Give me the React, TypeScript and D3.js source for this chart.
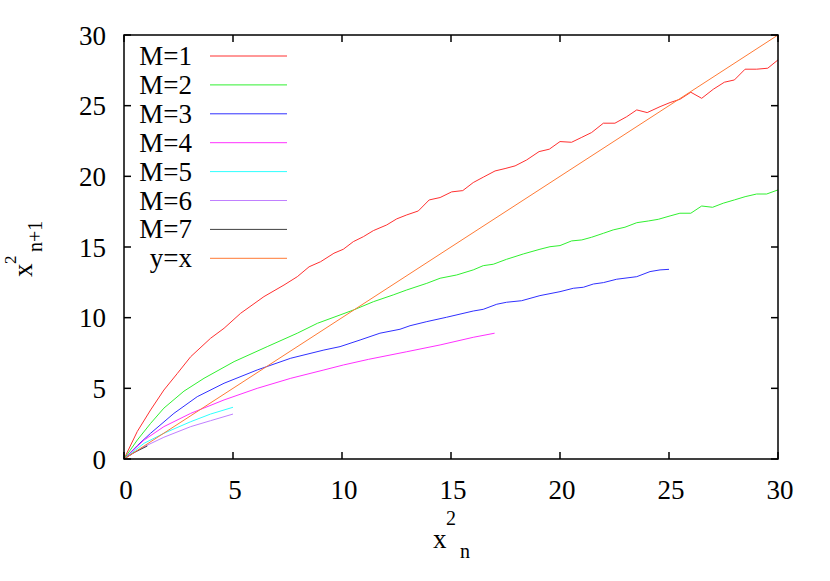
import { useEffect, useRef } from 'react';
import * as d3 from 'd3';

// values, [x, y] pairs per series
const m1 = [
  [0, 0], [0.61, 1.95], [1.22, 3.47], [1.83, 4.88], [2.45, 6.06], [3.06, 7.24],
  [3.97, 8.54], [4.59, 9.25], [5.35, 10.31], [6.42, 11.49], [7.34, 12.31], [7.95, 12.9],
  [8.49, 13.6], [9.02, 13.96], [9.63, 14.56], [10.06, 14.84], [10.52, 15.38], [10.98, 15.73],
  [11.44, 16.16], [12.05, 16.56], [12.51, 16.99], [12.97, 17.27], [13.5, 17.55], [14.0, 18.33],
  [14.5, 18.5], [15.03, 18.9], [15.54, 18.99], [16.02, 19.56], [16.48, 19.94], [17.02, 20.38],
  [17.48, 20.55], [17.94, 20.74], [18.47, 21.16], [19.04, 21.75], [19.51, 21.92], [20.0, 22.46],
  [20.53, 22.41], [21.0, 22.76], [21.45, 23.1], [21.99, 23.76], [22.52, 23.76], [23.06, 24.22],
  [23.52, 24.7], [24.0, 24.51], [24.59, 24.93], [25.05, 25.22], [25.5, 25.45], [26.0, 25.95],
  [26.5, 25.52], [27.03, 26.16], [27.54, 26.66], [28.0, 26.82], [28.49, 27.58], [29.02, 27.58],
  [29.53, 27.65], [30.0, 28.24],
];
const m2 = [
  [0, 0], [0.61, 1.34], [1.22, 2.52], [1.83, 3.6], [2.75, 4.8], [3.67, 5.71],
  [5.05, 6.89], [6.57, 7.95], [7.95, 8.9], [8.87, 9.6], [9.91, 10.19], [10.52, 10.54],
  [11.44, 11.13], [12.35, 11.61], [12.97, 11.96], [13.89, 12.43], [14.5, 12.79], [15.26, 13.02],
  [16.02, 13.38], [16.48, 13.68], [16.94, 13.78], [17.55, 14.13], [18.32, 14.51], [19.08, 14.84],
  [19.54, 15.02], [20.0, 15.1], [20.53, 15.43], [21.0, 15.5], [21.45, 15.69], [21.99, 15.97],
  [22.44, 16.21], [22.98, 16.4], [23.52, 16.72], [24.05, 16.84], [24.51, 16.96], [25.05, 17.2],
  [25.5, 17.39], [26.0, 17.39], [26.5, 17.9], [27.0, 17.81], [27.49, 18.1], [28.0, 18.33],
  [28.49, 18.56], [29.02, 18.75], [29.48, 18.75], [30.0, 19.04],
];
const m3 = [
  [0, 0], [0.61, 0.95], [1.22, 1.82], [2.29, 3.23], [3.36, 4.41], [4.59, 5.36],
  [6.11, 6.3], [7.65, 7.13], [9.17, 7.71], [9.91, 7.95], [10.83, 8.42], [11.74, 8.9],
  [12.66, 9.18], [13.12, 9.43], [13.89, 9.72], [14.8, 10.03], [16.02, 10.47], [16.48, 10.59],
  [17.1, 10.95], [17.55, 11.09], [18.24, 11.2], [19.08, 11.56], [20.0, 11.84], [20.61, 12.08],
  [21.07, 12.15], [21.53, 12.38], [21.99, 12.48], [22.6, 12.72], [23.52, 12.9], [24.13, 13.26],
  [24.59, 13.38], [25.0, 13.42],
];
const m4 = [
  [0, 0], [0.92, 1.34], [1.83, 2.29], [3.06, 3.23], [4.59, 4.18], [6.11, 5.0],
  [7.65, 5.71], [9.17, 6.3], [10.06, 6.65], [11.21, 7.05], [12.97, 7.59], [14.5, 8.07],
  [16.02, 8.61], [17.0, 8.9],
];
const m5 = [[0, 0], [0.92, 1.11], [1.83, 1.82], [3.06, 2.64], [3.97, 3.18], [5.0, 3.66]];
const m6 = [[0, 0], [0.92, 0.87], [1.83, 1.54], [3.06, 2.29], [3.97, 2.71], [5.0, 3.18]];
const m7 = [[0, 0], [0.45, 0.45], [1.07, 0.92]];
const identity = [[0, 0], [30, 30]];

const seriesNames = ['M=1', 'M=2', 'M=3', 'M=4', 'M=5', 'M=6', 'M=7', 'y=x'];
const seriesData = [m1, m2, m3, m4, m5, m6, m7, identity];
const seriesColors = ['#ff3030', '#30f030', '#3030ff', '#ff30ff', '#30ffff', '#c080ff', '#404040', '#ff7a35'];
const ticks = [0, 5, 10, 15, 20, 25, 30];

export default function App() {
  const svgRef = useRef<SVGSVGElement>(null);

  useEffect(() => {
    const svg = d3.select(svgRef.current);
    svg.selectAll('*').remove();

    const left = 124, right = 778, top = 35, bottom = 459;
    const font = "'Liberation Serif', 'DejaVu Serif', serif";
    const fs = 27;

    const x = d3.scaleLinear().domain([0, 30]).range([left, right]);
    const y = d3.scaleLinear().domain([0, 30]).range([bottom, top]);

    const line = d3.line<number[]>()
      .x(d => x(d[0]))
      .y(d => y(d[1]));

    // curves
    seriesData.forEach((s, i) => {
      svg.append('path')
        .attr('d', line(s))
        .attr('fill', 'none')
        .attr('stroke', seriesColors[i])
        .attr('stroke-width', 1);
    });

    // frame
    svg.append('rect')
      .attr('x', left).attr('y', top)
      .attr('width', right - left).attr('height', bottom - top)
      .attr('fill', 'none').attr('stroke', '#000').attr('stroke-width', 1.5);

    const txt = svg.append('g').style('font-family', font).attr('fill', '#000');

    // ticks on all four sides, pointing inwards
    const tl = 7;
    ticks.forEach(t => {
      svg.append('line').attr('x1', x(t)).attr('x2', x(t)).attr('y1', bottom).attr('y2', bottom - tl)
        .attr('stroke', '#000').attr('stroke-width', 1.5);
      svg.append('line').attr('x1', x(t)).attr('x2', x(t)).attr('y1', top).attr('y2', top + tl)
        .attr('stroke', '#000').attr('stroke-width', 1.5);
      svg.append('line').attr('y1', y(t)).attr('y2', y(t)).attr('x1', left).attr('x2', left + tl)
        .attr('stroke', '#000').attr('stroke-width', 1.5);
      svg.append('line').attr('y1', y(t)).attr('y2', y(t)).attr('x1', right).attr('x2', right - tl)
        .attr('stroke', '#000').attr('stroke-width', 1.5);

      txt.append('text')
        .attr('x', x(t) + 2).attr('y', bottom + 40)
        .attr('text-anchor', 'middle')
        .style('font-size', `${fs}px`)
        .text(t);
      txt.append('text')
        .attr('x', left - 18).attr('y', y(t) + 9.5)
        .attr('text-anchor', 'end')
        .style('font-size', `${fs}px`)
        .text(t);
    });

    // legend
    seriesNames.forEach((name, i) => {
      const ly = 56 + i * 28.9;
      txt.append('text')
        .attr('x', 192).attr('y', ly + 9)
        .attr('text-anchor', 'end')
        .style('font-size', `${fs}px`)
        .text(name);
      svg.append('line')
        .attr('x1', 210).attr('x2', 287).attr('y1', ly).attr('y2', ly)
        .attr('stroke', seriesColors[i]).attr('stroke-width', 1);
    });

    // x axis title: x^2_n
    txt.append('text').attr('x', 433).attr('y', 548).style('font-size', `${fs}px`).text('x');
    txt.append('text').attr('x', 446).attr('y', 525).style('font-size', '20px').text('2');
    txt.append('text').attr('x', 460).attr('y', 558).style('font-size', '20px').text('n');

    // y axis title: x^2_{n+1}
    const yt = txt.append('g').attr('transform', 'translate(32,277) rotate(-90)');
    yt.append('text').attr('x', 0).attr('y', 0).style('font-size', `${fs}px`).text('x');
    yt.append('text').attr('x', 13).attr('y', -16).style('font-size', '17px').text('2');
    yt.append('text').attr('x', 25).attr('y', 10).style('font-size', '20px').text('n+1');
  }, []);

  return (
    <svg
      ref={svgRef}
      width={830}
      height={581}
      style={{ position: 'absolute', left: 0, top: 0, background: '#fff' }}
    />
  );
}
